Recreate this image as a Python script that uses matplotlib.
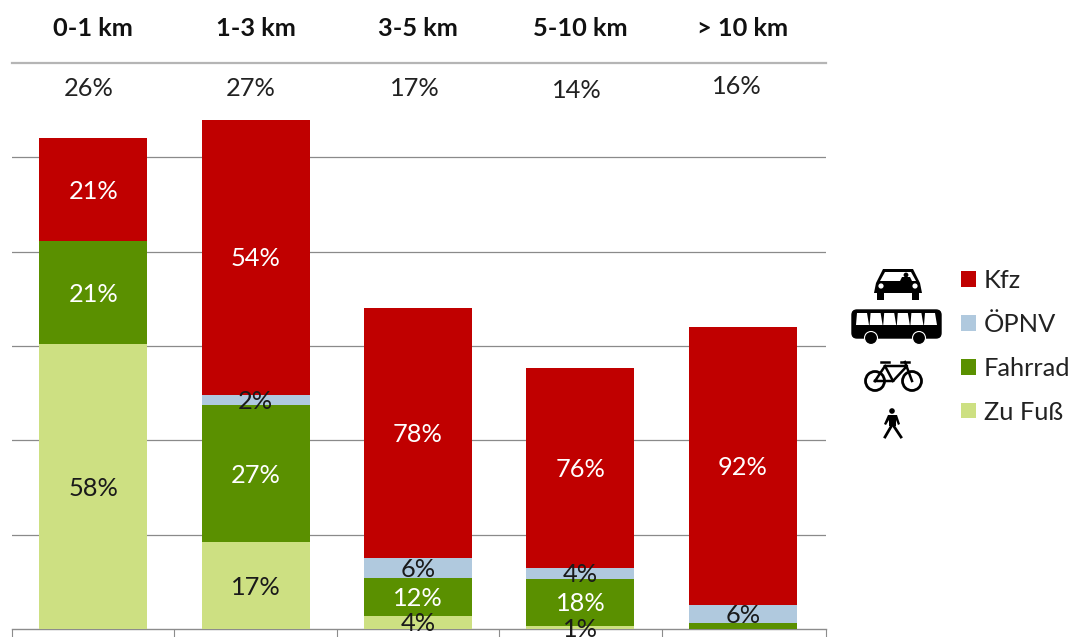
import matplotlib
matplotlib.use("Agg")
import matplotlib.pyplot as plt
from matplotlib.patches import Circle, Polygon, Rectangle, FancyBboxPatch
from matplotlib.transforms import blended_transform_factory

plt.rcParams['font.family'] = ['Lato', 'DejaVu Sans']

categories = ['0-1 km', '1-3 km', '3-5 km', '5-10 km', '> 10 km']
totals = [26, 27, 17, 14, 16]
zu_fuss = [58, 17, 4, 1, 0]
fahrrad = [21, 27, 12, 18, 2]
oepnv = [0, 2, 6, 4, 6]
kfz = [21, 54, 78, 76, 92]
hidden_labels = {(4, 'Fahrrad')}

series = [('Zu Fuß', zu_fuss, '#CDE082', '#1a1a1a'),
          ('Fahrrad', fahrrad, '#5A9000', 'white'),
          ('ÖPNV', oepnv, '#B0C9DE', '#1a1a1a'),
          ('Kfz', kfz, '#C00000', 'white')]

W, H = 1073, 637
FS = 18.3
fig = plt.figure(figsize=(W / 100, H / 100), dpi=100, facecolor='white')
ax = fig.add_axes([12 / W, (H - 629) / H, 814 / W, 566 / H])
ax.set_xlim(-0.5, 4.512)
ax.set_ylim(0, 30)

for s in ('top', 'left', 'right'):
    ax.spines[s].set_visible(False)
ax.spines['bottom'].set_color('#8c8c8c')
ax.spines['bottom'].set_linewidth(1)
ax.set_yticks(range(5, 26, 5))
ax.tick_params(axis='y', length=0, labelleft=False)
ax.yaxis.grid(True, color='#8a8a8a', lw=0.9)
ax.set_axisbelow(True)
ax.set_xticks([i - 0.5 for i in range(5)] + [4.512])
ax.tick_params(axis='x', length=9, color='#8c8c8c', labelbottom=False)
ax.axhline(30, color='#b5b5b5', lw=1.6, clip_on=False)

bottoms = [0.0] * 5
handles = {}
for name, shares, color, tcolor in series:
    heights = [sh * t / 100 for sh, t in zip(shares, totals)]
    bars = ax.bar(range(5), heights, 0.665, bottom=bottoms, color=color, zorder=3, label=name)
    handles[name] = bars
    for i, (h, sh) in enumerate(zip(heights, shares)):
        if sh > 0 and (i, name) not in hidden_labels:
            ax.annotate(f'{sh}%', (i, bottoms[i] + h / 2), xytext=(0, -1), textcoords='offset points',
                        ha='center', va='center', fontsize=FS, color=tcolor, zorder=4,
                        annotation_clip=False)
    bottoms = [b + h for b, h in zip(bottoms, heights)]

trans = blended_transform_factory(ax.transData, fig.transFigure)
total_label_y = [88, 88, 88, 90, 86]
total_label_dx = [-0.03, -0.03, -0.02, -0.025, -0.035]
for i, (c, t, yy, dx) in enumerate(zip(categories, totals, total_label_y, total_label_dx)):
    ax.text(i, 1 - 28 / H, c, transform=trans, ha='center', va='center', fontsize=FS,
            fontweight='bold', color='#111111')
    ax.text(i + dx, 1 - yy / H, f'{t}%', transform=trans, ha='center', va='center', fontsize=FS,
            color='#222222')

order = ['Kfz', 'ÖPNV', 'Fahrrad', 'Zu Fuß']
leg = fig.legend([handles[k] for k in order], order, loc='upper left',
                 bbox_to_anchor=(961 / W, 1 - 269 / H), frameon=False, fontsize=FS,
                 handlelength=0.58, handleheight=0.58, handletextpad=0.32, labelspacing=0.82,
                 borderpad=0, borderaxespad=0, labelcolor='#222222')

# pictograms, drawn in pixel coordinates
ov = fig.add_axes([0, 0, 1, 1], zorder=5)
ov.set_xlim(0, W)
ov.set_ylim(H, 0)
ov.axis('off')
ov.patch.set_alpha(0)
k = 'black'
# car
ov.add_patch(Polygon([[883, 269], [913, 269], [920, 283], [922, 293], [874, 293], [876, 283]], fc=k))
ov.add_patch(Polygon([[885, 272], [911, 272], [916, 281], [880, 281]], fc='white'))
ov.add_patch(Circle((906, 275), 2.4, fc=k))
ov.add_patch(Polygon([[900, 281], [902, 277], [910, 277], [912, 281]], fc=k))
ov.add_patch(Rectangle((877, 293), 7, 7, fc=k))
ov.add_patch(Rectangle((912, 293), 7, 7, fc=k))
ov.add_patch(Circle((881, 286), 2.6, fc='white'))
ov.add_patch(Circle((915, 286), 2.6, fc='white'))
# bus
ov.add_patch(FancyBboxPatch((852, 310), 89, 28, boxstyle='round,pad=0,rounding_size=5', fc=k))
for j in range(6):
    x0 = 856 + j * 13.6
    ov.add_patch(Polygon([[x0 + 1, 313], [x0 + 11, 313], [x0 + 13, 325], [x0, 325]], fc='white'))
for x in (871, 919):
    ov.add_patch(Circle((x, 338), 6.5, fc=k, ec='white', lw=0.8))
# bicycle
for x in (875, 912):
    ov.add_patch(Circle((x, 381), 9.5, fc='none', ec=k, lw=2))
ov.plot([875, 885, 907, 893, 875], [381, 366, 366, 381, 381], color=k, lw=1.8)
ov.plot([885, 893], [366, 381], color=k, lw=1.8)
ov.plot([905, 912], [362, 381], color=k, lw=1.8)
ov.plot([901, 909], [362, 362], color=k, lw=1.8)
ov.plot([881, 889], [362, 362], color=k, lw=1.8)
# pedestrian
ov.add_patch(Circle((892, 411), 2.8, fc=k))
ov.add_patch(Polygon([[888, 415], [897, 415], [900, 424], [898, 425], [896, 420], [896, 426], [889, 426],
                      [889, 420], [886, 425], [884, 424]], fc=k))
ov.plot([892, 885], [425, 437], color=k, lw=2)
ov.plot([893, 901], [425, 437], color=k, lw=2)

fig.savefig('out.png', dpi=100)
